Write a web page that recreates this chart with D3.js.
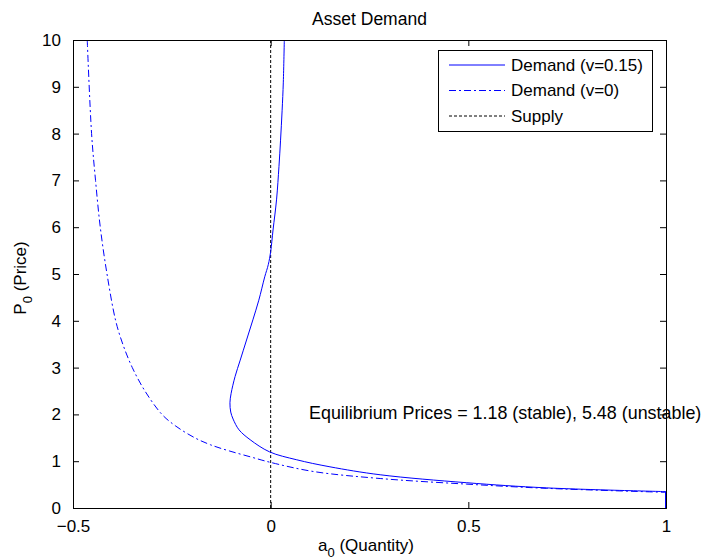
<!DOCTYPE html>
<html>
<head>
<meta charset="utf-8">
<script src="https://cdn.jsdelivr.net/npm/d3@7"></script>
<style>
  body { margin: 0; background: #fff; }
  svg { display: block; font-family: Arial, "Liberation Sans", sans-serif; }
  text { fill: #000; }
</style>
</head>
<body>
<div id="chart"></div>
<script>
// values
const xTicks = [-0.5, 0, 0.5, 1];
const yTicks = [0, 1, 2, 3, 4, 5, 6, 7, 8, 9, 10];

// Demand (v=0.15): quantity a0 and price P0
const demandA = [0.0345, 0.032, 0.029, 0.025, 0.021, 0.015, 0.006, 0.0, -0.006, -0.015, -0.030, -0.045, -0.061, -0.077,
  -0.090, -0.100, -0.103, -0.101, -0.095, -0.080, -0.052, -0.003, 0.066, 0.150, 0.277, 0.496, 0.698, 1.0];
const demandP = [10, 9.1, 8.5, 7.86, 7.3, 6.6, 5.94, 5.48, 5.2, 4.94, 4.44, 4.02, 3.59, 3.16,
  2.81, 2.45, 2.25, 2.05, 1.9, 1.67, 1.46, 1.20, 1.03, 0.88, 0.71, 0.54, 0.43, 0.35];

// Demand (v=0)
const demand0A = [-0.464, -0.453, -0.443, -0.431, -0.414, -0.392, -0.374, -0.350, -0.318, -0.275, -0.240,
  -0.192, -0.152, -0.105, -0.050, -0.003, 0.108, 0.277, 0.496, 0.698, 1.0];
const demand0P = [10, 8, 7, 6, 5, 4, 3.5, 3, 2.5, 2, 1.75,
  1.5, 1.35, 1.22, 1.09, 0.98, 0.78, 0.63, 0.51, 0.42, 0.335];

// Supply: vertical at a0 = 0
const supplyA = [0, 0];
const supplyP = [0, 10];

const legendLabels = ["Demand (v=0.15)", "Demand (v=0)", "Supply"];
const note = "Equilibrium Prices = 1.18 (stable), 5.48 (unstable)";

const W = 702, H = 559;
const M = { top: 40, right: 36, bottom: 51, left: 73 };
const blue = "#0000ff";

const svg = d3.select("#chart").append("svg").attr("width", W).attr("height", H);

const x = d3.scaleLinear().domain([-0.5, 1]).range([M.left, W - M.right]);
const y = d3.scaleLinear().domain([0, 10]).range([H - M.bottom, M.top]);

svg.append("defs").append("clipPath").attr("id", "plot")
  .append("rect").attr("x", M.left).attr("y", M.top)
  .attr("width", x(1) - x(-0.5)).attr("height", y(0) - y(10));

const line = d3.line().x((d) => x(d[0])).y((d) => y(d[1])).curve(d3.curveCatmullRom.alpha(0.5));
const zip = (a, p) => a.map((v, i) => [v, p[i]]);

const g = svg.append("g").attr("clip-path", "url(#plot)");
g.append("path").datum(zip(supplyA, supplyP)).attr("d", d3.line().x((d) => x(d[0])).y((d) => y(d[1])))
  .attr("fill", "none").attr("stroke", "#000").attr("stroke-width", 1).attr("stroke-dasharray", "3,2");
g.append("path").datum(zip(demand0A, demand0P)).attr("d", line)
  .attr("fill", "none").attr("stroke", blue).attr("stroke-width", 1).attr("stroke-dasharray", "7,3,2,3");
// solid demand, plus its drop to the axis at the right edge
const solid = zip(demandA, demandP);
g.append("path").datum(solid).attr("d", line)
  .attr("fill", "none").attr("stroke", blue).attr("stroke-width", 1);
g.append("path").datum([solid[solid.length - 1], [1, 0]])
  .attr("d", d3.line().x((d) => x(d[0]) - 0.5).y((d) => y(d[1])))
  .attr("fill", "none").attr("stroke", blue).attr("stroke-width", 1);

// axes, MATLAB style: ticks inward on all four sides
const tk = -6;
const axB = svg.append("g").attr("transform", `translate(0,${y(0)})`)
  .call(d3.axisBottom(x).tickValues(xTicks).tickSize(tk).tickPadding(9).tickFormat(d3.format("")));
const axT = svg.append("g").attr("transform", `translate(0,${y(10)})`)
  .call(d3.axisTop(x).tickValues(xTicks).tickSize(tk).tickFormat(""));
const axL = svg.append("g").attr("transform", `translate(${x(-0.5)},0)`)
  .call(d3.axisLeft(y).tickValues(yTicks).tickSize(tk).tickPadding(12));
const axR = svg.append("g").attr("transform", `translate(${x(1)},0)`)
  .call(d3.axisRight(y).tickValues(yTicks).tickSize(tk).tickFormat(""));
[axB, axT, axL, axR].forEach((a) => {
  a.select(".domain").attr("stroke", "#000");
  a.selectAll(".tick line").attr("stroke", "#000");
  a.selectAll("text").attr("font-size", 17).attr("font-family", "Arial, 'Liberation Sans', sans-serif").attr("fill", "#000");
});
axB.selectAll("text").attr("dy", "0.9em");

// title and axis labels
svg.append("text").attr("x", (x(-0.5) + x(1)) / 2).attr("y", 25).attr("text-anchor", "middle")
  .attr("font-size", 17.5).text("Asset Demand");

const xl = svg.append("text").attr("x", 366).attr("y", 551).attr("text-anchor", "middle").attr("font-size", 17);
xl.append("tspan").text("a");
xl.append("tspan").attr("font-size", 13).attr("dy", 6).text("0");
xl.append("tspan").attr("dy", -6).text(" (Quantity)");

const yl = svg.append("text").attr("transform", `translate(26,278) rotate(-90)`).attr("text-anchor", "middle").attr("font-size", 17);
yl.append("tspan").text("P");
yl.append("tspan").attr("font-size", 13).attr("dy", 6).text("0");
yl.append("tspan").attr("dy", -6).text(" (Price)");

// annotation
svg.append("text").attr("x", 309).attr("y", 419).attr("font-size", 17.9).text(note);

// legend
const lg = svg.append("g");
lg.append("rect").attr("x", 438.5).attr("y", 50.5).attr("width", 214).attr("height", 81)
  .attr("fill", "#fff").attr("stroke", "#000").attr("stroke-width", 1);
const styles = [
  { stroke: blue, dash: null },
  { stroke: blue, dash: "7,3,2,3" },
  { stroke: "#000", dash: "3,2" }
];
legendLabels.forEach((lab, i) => {
  const ly = 65 + i * 25.5;
  lg.append("line").attr("x1", 449).attr("x2", 505).attr("y1", ly).attr("y2", ly)
    .attr("stroke", styles[i].stroke).attr("stroke-width", 1).attr("stroke-dasharray", styles[i].dash);
  lg.append("text").attr("x", 511).attr("y", ly).attr("dy", "0.35em").attr("font-size", 17).text(lab);
});
</script>
</body>
</html>
